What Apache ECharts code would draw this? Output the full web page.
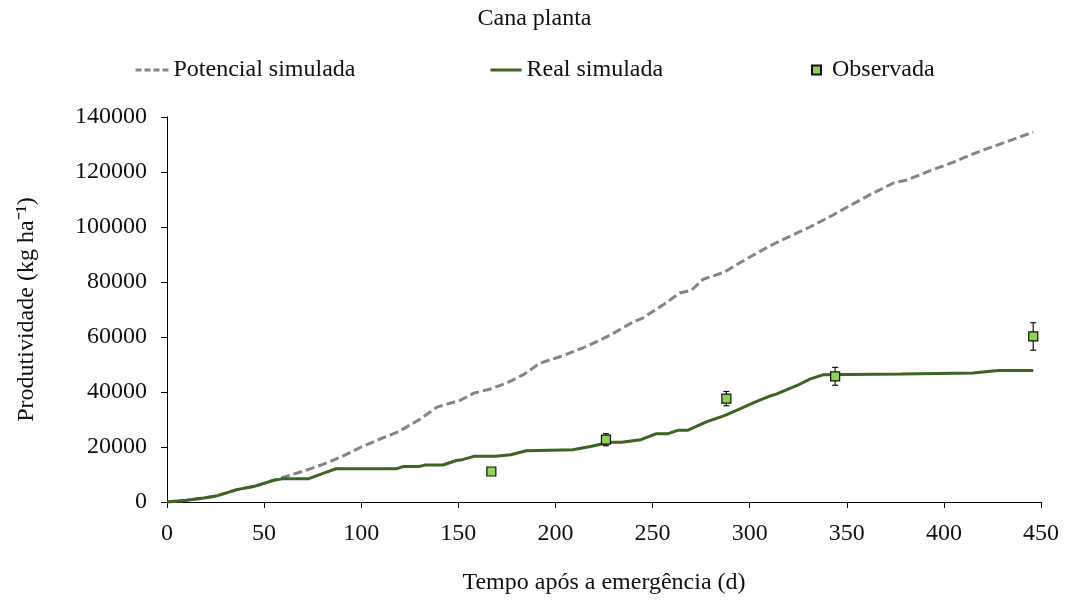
<!DOCTYPE html>
<html>
<head>
<meta charset="utf-8">
<script src="https://cdn.jsdelivr.net/npm/echarts@6/dist/echarts.min.js"></script>
<style>
  html, body { margin: 0; padding: 0; background: #fff; }
  #chart { width: 1069px; height: 601px; }
</style>
</head>
<body>
<div id="chart"></div>
<script>
// Potential simulated yield: [day after emergence, kg/ha]
const potencialSimulada = [
  [0, 0], [10, 600], [19, 1450], [26, 2300], [36, 4500], [45, 5700], [55, 7900], [60, 9000],
  [70, 11200], [80, 13600], [90, 16500], [100, 20000], [110, 23000], [119, 25500],
  [130, 30000], [139, 34500], [151, 37000], [158, 39600], [166, 41000], [175, 43300],
  [184, 46500], [192, 50500], [203, 53000], [214, 56000], [222, 58500], [230, 61400],
  [240, 65500], [245, 66900], [255, 71500], [264, 76000], [270, 77000], [276, 81000],
  [287, 83600], [295, 87000], [302, 89800], [310, 93000], [320, 96400], [331, 100000],
  [342, 104000], [354, 108700], [364, 112500], [374, 116000], [381, 117100], [393, 120500],
  [405, 123600], [413, 126000], [423, 128700], [435, 131700], [446, 134500]
];

// Actual (water-limited) simulated yield
const realSimulada = [
  [0, 0], [10, 600], [19, 1450], [26, 2300], [36, 4500], [45, 5700], [55, 7900], [60, 8500],
  [73, 8500], [80, 10300], [87, 12100], [118, 12100], [122, 12950], [130, 12950],
  [133, 13450], [142, 13450], [149, 15100], [152, 15400], [158, 16600], [169, 16600],
  [177, 17200], [185, 18650], [209, 19000], [218, 20200], [228, 21700], [234, 21700],
  [244, 22650], [252, 24850], [258, 24850], [263, 26050], [268, 26050], [278, 29200],
  [287, 31400], [295, 33900], [303, 36400], [311, 38650], [314, 39300], [326, 42900],
  [331, 44700], [338, 46300], [378, 46550], [415, 46900], [428, 47850], [446, 47850]
];

// Field observations with standard deviation
const obsDias = [167, 226, 288, 344, 446];
const obsValores = [11100, 22650, 37600, 45700, 60200];
const obsDesvio = [1000, 2200, 2600, 3250, 5000];

const xTicks = { min: 0, max: 450, interval: 50 };
const yTicks = { min: 0, max: 140000, interval: 20000 };

const FONT = 'Liberation Serif';
const TXT = '#111';
const GRAY = '#858585';
const GREEN = '#3E6324';

const observada = obsDias.map((d, i) => [d, obsValores[i]]);
const barras = obsDias.map((d, i) => [d, obsValores[i] - obsDesvio[i], obsValores[i] + obsDesvio[i]]);

const chart = echarts.init(document.getElementById('chart'), null, { renderer: 'canvas' });

const legendText = { fontFamily: FONT, fontSize: 24, color: TXT };

chart.setOption({
  animation: false,
  backgroundColor: '#fff',
  title: {
    text: 'Cana planta',
    left: 'center',
    top: 2,
    textStyle: { fontFamily: FONT, fontSize: 24, fontWeight: 'normal', color: TXT }
  },
  legend: [
    {
      data: [{
        name: 'Potencial simulada',
        itemStyle: { opacity: 0 },
        lineStyle: { color: GRAY, width: 3, type: [6, 3] }
      }],
      left: 134, top: 58, padding: 0,
      itemWidth: 33, itemHeight: 14, textStyle: legendText
    },
    {
      data: [{
        name: 'Real simulada',
        itemStyle: { opacity: 0 },
        lineStyle: { color: GREEN, width: 3 }
      }],
      left: 489, top: 58, padding: 0,
      itemWidth: 31, itemHeight: 14, textStyle: legendText
    },
    {
      data: ['Observada'], left: 811, top: 58, padding: 0,
      itemWidth: 9, itemHeight: 9,
      textStyle: Object.assign({ padding: [0, 0, 0, 6] }, legendText)
    }
  ],
  grid: { left: 167, right: 28, top: 117, bottom: 99, containLabel: false },
  xAxis: {
    type: 'value',
    min: xTicks.min, max: xTicks.max, interval: xTicks.interval,
    name: 'Tempo após a emergência (d)',
    nameLocation: 'middle',
    nameGap: 69,
    nameTextStyle: { fontFamily: FONT, fontSize: 24, color: TXT },
    axisLine: { show: true, lineStyle: { color: '#000', width: 1 } },
    axisTick: { show: true, inside: false, length: 6, lineStyle: { color: '#000' } },
    axisLabel: { margin: 20, fontFamily: FONT, fontSize: 24, color: TXT },
    splitLine: { show: false }
  },
  yAxis: {
    type: 'value',
    min: yTicks.min, max: yTicks.max, interval: yTicks.interval,
    name: 'Produtividade (kg ha⁻¹)',
    nameLocation: 'middle',
    nameGap: 128,
    nameTextStyle: { fontFamily: FONT, fontSize: 24, color: TXT },
    axisLine: { show: true, lineStyle: { color: '#000', width: 1 } },
    axisTick: { show: true, inside: false, length: 6, lineStyle: { color: '#000' } },
    axisLabel: { margin: 20, fontFamily: FONT, fontSize: 24, color: TXT, formatter: v => String(v) },
    splitLine: { show: false }
  },
  series: [
    {
      name: 'Potencial simulada',
      type: 'line',
      data: potencialSimulada,
      symbol: 'none',
      z: 2,
      lineStyle: { color: GRAY, width: 3, type: [9, 4] },
      itemStyle: { color: GRAY }
    },
    {
      name: 'Real simulada',
      type: 'line',
      data: realSimulada,
      symbol: 'none',
      z: 3,
      lineStyle: { color: GREEN, width: 3 },
      itemStyle: { color: GREEN }
    },
    {
      name: 'Desvio',
      type: 'custom',
      data: barras,
      z: 4,
      silent: true,
      renderItem: function (params, api) {
        const x = api.value(0);
        const lo = api.coord([x, api.value(1)]);
        const hi = api.coord([x, api.value(2)]);
        const cap = 3;
        const st = { stroke: '#111', lineWidth: 1.2 };
        return {
          type: 'group',
          children: [
            { type: 'line', shape: { x1: lo[0], y1: lo[1], x2: hi[0], y2: hi[1] }, style: st },
            { type: 'line', shape: { x1: lo[0] - cap, y1: lo[1], x2: lo[0] + cap, y2: lo[1] }, style: st },
            { type: 'line', shape: { x1: hi[0] - cap, y1: hi[1], x2: hi[0] + cap, y2: hi[1] }, style: st }
          ]
        };
      }
    },
    {
      name: 'Observada',
      type: 'scatter',
      data: observada,
      symbol: 'rect',
      symbolSize: 9,
      z: 5,
      itemStyle: { color: '#92D050', borderColor: '#111', borderWidth: 1.2, opacity: 1 }
    }
  ]
});
</script>
</body>
</html>
